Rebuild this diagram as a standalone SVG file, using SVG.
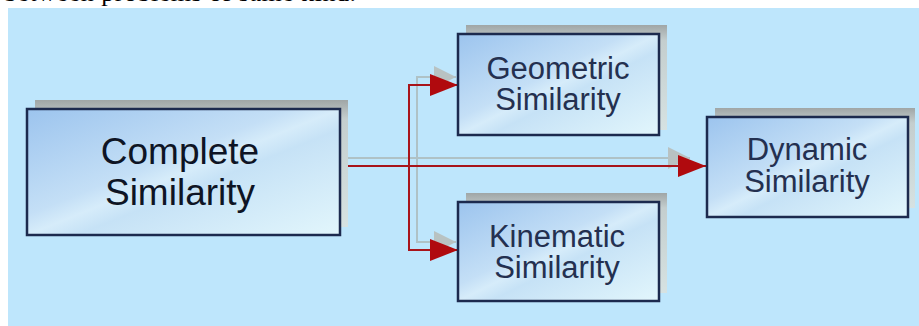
<svg xmlns="http://www.w3.org/2000/svg" width="919" height="326" viewBox="0 0 919 326">
<defs>
<style>
.bg{fill:#BEE6FC}
.shadow{fill:url(#shadowGrad)}
.box{fill:url(#boxGrad);stroke:#1C2A4E;stroke-width:2.5}
.label{font-family:"Liberation Sans",Arial,sans-serif;font-size:31px;fill:#243050;text-anchor:middle}
.big{font-size:37px;fill:#0E1424}
.conn{fill:none;stroke:#A8141A;stroke-width:2}
.ghost{fill:none;stroke:#AFC2C6;stroke-width:2}
.top{font-family:"Liberation Serif","Times New Roman",serif;font-size:26px;fill:#000}
</style>
<linearGradient id="boxGrad" x1="0" y1="0" x2="1" y2="1">
<stop offset="0" stop-color="#9CC4EE"/>
<stop offset="0.42" stop-color="#C4DFF6"/>
<stop offset="0.5" stop-color="#D6ECFA"/>
<stop offset="0.58" stop-color="#C6E2F6"/>
<stop offset="1" stop-color="#E2F6FC"/>
</linearGradient>
<linearGradient id="shadowGrad" x1="0" y1="0" x2="0" y2="1">
<stop offset="0" stop-color="#A0A6A6"/>
<stop offset="0.15" stop-color="#C4CECE"/>
<stop offset="1" stop-color="#D6E2E2"/>
</linearGradient>
<marker id="arrow" markerUnits="userSpaceOnUse" markerWidth="28" markerHeight="22" refX="28" refY="11" orient="auto">
<path d="M0,0 L28,11 L0,22 Z" fill="#B00A0E"/>
</marker>
<marker id="ghostArrow" markerUnits="userSpaceOnUse" markerWidth="24" markerHeight="22" refX="22" refY="11" orient="auto">
<path d="M0,0 L22,11 L0,22 Z" fill="#B8C2C2"/>
</marker>
</defs>
<rect x="0" y="0" width="919" height="326" fill="#FFFFFF"/>
<text class="top" x="4" y="1" textLength="352" lengthAdjust="spacing">between problems of same kind.</text>
<rect class="bg" x="8" y="8" width="911" height="318"/>

<g id="connectors">
<path class="ghost" d="M348,158 H690" marker-end="url(#ghostArrow)"/>
<path class="ghost" d="M417,158 V77 H456" marker-end="url(#ghostArrow)"/>
<path class="ghost" d="M417,158 V242 H456" marker-end="url(#ghostArrow)"/>
<path class="conn" d="M340,166 H706" marker-end="url(#arrow)"/>
<path class="conn" d="M409,166 V85 H458" marker-end="url(#arrow)"/>
<path class="conn" d="M409,166 V250 H458" marker-end="url(#arrow)"/>
</g>

<g id="complete">
<rect class="shadow" x="35" y="100" width="313" height="127"/>
<rect class="box" x="27" y="109" width="313" height="126"/>
<text class="label big" x="180" y="164">Complete</text>
<text class="label big" x="180" y="205">Similarity</text>
</g>

<g id="geometric">
<rect class="shadow" x="466" y="25" width="201" height="105"/>
<rect class="box" x="458" y="34" width="201" height="101"/>
<text class="label" x="558" y="79">Geometric</text>
<text class="label" x="558" y="110">Similarity</text>
</g>

<g id="kinematic">
<rect class="shadow" x="466" y="193" width="201" height="100"/>
<rect class="box" x="458" y="202" width="201" height="99"/>
<text class="label" x="557" y="247">Kinematic</text>
<text class="label" x="557" y="278">Similarity</text>
</g>

<g id="dynamic">
<rect class="shadow" x="715" y="108" width="200" height="100"/>
<rect class="box" x="707" y="117" width="201" height="100"/>
<text class="label" x="807" y="160">Dynamic</text>
<text class="label" x="807" y="192">Similarity</text>
</g>
</svg>
